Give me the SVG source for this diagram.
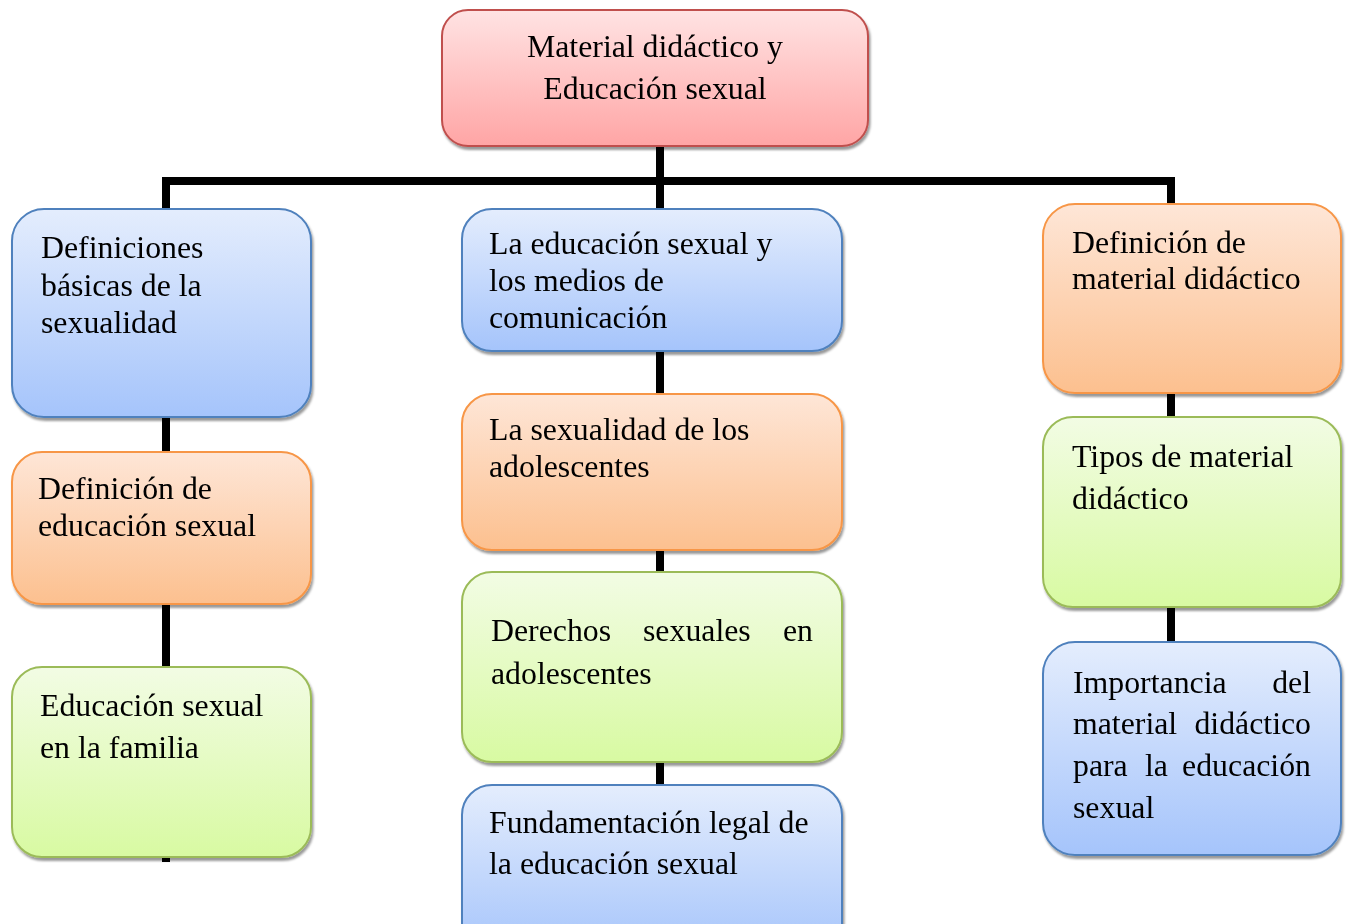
<svg xmlns="http://www.w3.org/2000/svg" width="1348" height="924" viewBox="0 0 1348 924">
<style>
text{font-family:"Liberation Serif","Times New Roman",serif;font-size:31.8px;fill:#000}
.blue{fill:url(#gBlue);stroke:#4f81bd;stroke-width:2}
.orange{fill:url(#gOrange);stroke:#f79646;stroke-width:2}
.green{fill:url(#gGreen);stroke:#9bbb59;stroke-width:2}
.red{fill:url(#gRed);stroke:#c0504d;stroke-width:2}
.box{filter:url(#shadow)}
.conn{fill:none;stroke:#000;stroke-width:8;stroke-linejoin:miter;stroke-linecap:butt}
.end{text-anchor:end}
.mid{text-anchor:middle}
</style>
<defs>
<linearGradient id="gBlue" x1="0" y1="0" x2="0" y2="1"><stop offset="0" stop-color="#e4edfd"/><stop offset="1" stop-color="#a5c4fb"/></linearGradient>
<linearGradient id="gOrange" x1="0" y1="0" x2="0" y2="1"><stop offset="0" stop-color="#fee6d7"/><stop offset="1" stop-color="#fcc08f"/></linearGradient>
<linearGradient id="gGreen" x1="0" y1="0" x2="0" y2="1"><stop offset="0" stop-color="#f2fce4"/><stop offset="1" stop-color="#d8faa2"/></linearGradient>
<linearGradient id="gRed" x1="0" y1="0" x2="0" y2="1"><stop offset="0" stop-color="#ffe3e3"/><stop offset="1" stop-color="#ffa5a5"/></linearGradient>
<filter id="shadow" x="-10%" y="-10%" width="120%" height="130%"><feDropShadow dx="1.5" dy="3" stdDeviation="1.2" flood-color="#000" flood-opacity="0.4"/></filter>
</defs>
<g id="connectors">
<path class="conn" d="M166,862 V181 H1171 V642"/>
<path class="conn" d="M660,146 V924"/>
</g>
<g id="root" class="box"><rect class="red" x="442" y="10" width="426" height="136" rx="26"/>
<text class="mid" x="655" y="57">Material didáctico y</text>
<text class="mid" x="655" y="99">Educación sexual</text></g>
<g id="n-definiciones" class="box"><rect class="blue" x="12" y="209" width="299" height="208" rx="32"/>
<text x="41" y="258">Definiciones</text>
<text x="41" y="296">básicas de la</text>
<text x="41" y="333">sexualidad</text></g>
<g id="n-def-educacion" class="box"><rect class="orange" x="12" y="452" width="299" height="152" rx="30"/>
<text x="38" y="499">Definición de</text>
<text x="38" y="536">educación sexual</text></g>
<g id="n-familia" class="box"><rect class="green" x="12" y="667" width="299" height="190" rx="30"/>
<text x="40" y="716">Educación sexual</text>
<text x="40" y="758">en la familia</text></g>
<g id="n-medios" class="box"><rect class="blue" x="462" y="209" width="380" height="142" rx="30"/>
<text x="489" y="254">La educación sexual y</text>
<text x="489" y="291">los medios de</text>
<text x="489" y="328">comunicación</text></g>
<g id="n-sexualidad-adol" class="box"><rect class="orange" x="462" y="394" width="380" height="156" rx="30"/>
<text x="489" y="440">La sexualidad de los</text>
<text x="489" y="477">adolescentes</text></g>
<g id="n-derechos" class="box"><rect class="green" x="462" y="572" width="380" height="190" rx="30"/>
<text x="491" y="641">Derechos</text>
<text x="643" y="641">sexuales</text>
<text class="end" x="813" y="641">en</text>
<text x="491" y="684">adolescentes</text></g>
<g id="n-fundamentacion" class="box"><rect class="blue" x="462" y="785" width="380" height="170" rx="30"/>
<text x="489" y="833">Fundamentación legal de</text>
<text x="489" y="874">la educación sexual</text></g>
<g id="n-def-material" class="box"><rect class="orange" x="1043" y="204" width="298" height="189" rx="32"/>
<text x="1072" y="253">Definición de</text>
<text x="1072" y="289">material didáctico</text></g>
<g id="n-tipos" class="box"><rect class="green" x="1043" y="417" width="298" height="190" rx="30"/>
<text x="1072" y="467">Tipos de material</text>
<text x="1072" y="509">didáctico</text></g>
<g id="n-importancia" class="box"><rect class="blue" x="1043" y="642" width="298" height="213" rx="32"/>
<text x="1073" y="693">Importancia</text>
<text class="end" x="1311" y="693">del</text>
<text x="1073" y="734">material</text>
<text class="end" x="1311" y="734">didáctico</text>
<text x="1073" y="776">para</text>
<text x="1145" y="776">la</text>
<text class="end" x="1311" y="776">educación</text>
<text x="1073" y="818">sexual</text></g>
</svg>
